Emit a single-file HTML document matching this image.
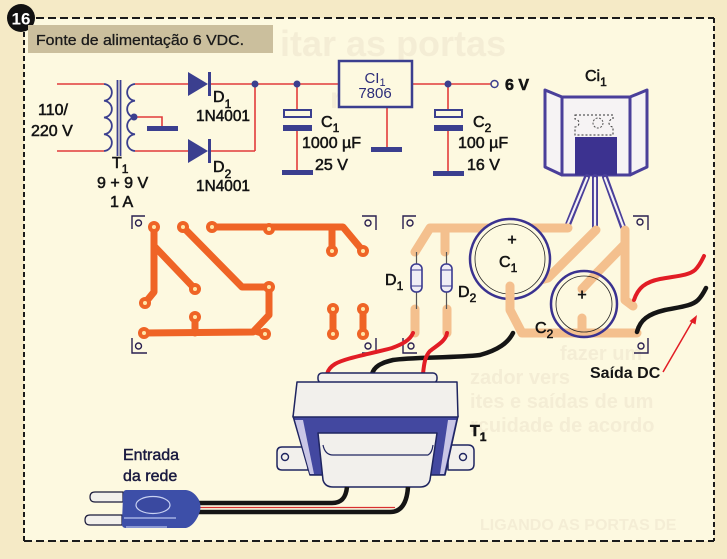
<!DOCTYPE html>
<html><head><meta charset="utf-8">
<style>
html,body{margin:0;padding:0;background:#f5eac6;}
svg{display:block}
text{font-family:"Liberation Sans",Arial,sans-serif;}
.m{fill:#141414;stroke:#141414;stroke-width:0.55;}
.bg{fill:#f4edd5;font-weight:bold;}
</style></head><body>
<svg width="727" height="559" viewBox="0 0 727 559" xmlns="http://www.w3.org/2000/svg">
<rect width="727" height="559" fill="#f5eac6"/>
<rect x="24" y="18" width="690" height="523" fill="#fdf9e0"/>

<!-- faint bleed-through -->
<text class="bg" x="280" y="56" font-size="36">itar as portas</text>
<text class="bg" x="330" y="108" font-size="30">rcuito</text>
<text class="bg" x="560" y="360" font-size="20">fazer um</text>
<text class="bg" x="470" y="384" font-size="20">zador vers</text>
<text class="bg" x="470" y="408" font-size="20">ites e saídas de um</text>
<text class="bg" x="470" y="432" font-size="20">rcuidade de acordo</text>
<text class="bg" x="480" y="530" font-size="16">LIGANDO AS PORTAS DE</text>

<!-- dashed border -->
<g stroke="#1a1a1a" stroke-width="2" fill="none">
<line x1="36" y1="18" x2="714" y2="18" stroke-dasharray="8 4"/>
<line x1="24" y1="32" x2="24" y2="541" stroke-dasharray="5 3"/>
<line x1="24" y1="541" x2="714" y2="541" stroke-dasharray="8 4"/>
<line x1="714" y1="18" x2="714" y2="541" stroke-dasharray="5 3"/>
</g>
<circle cx="21" cy="18" r="14" fill="#111"/>
<text x="21" y="24.5" font-size="17" font-weight="bold" fill="#fff" text-anchor="middle">16</text>
<rect x="28" y="25" width="245" height="28" fill="#cbbf9d"/>
<text x="36" y="45" font-size="15" fill="#1a1a1a" stroke="#1a1a1a" stroke-width="0.3" textLength="208" lengthAdjust="spacingAndGlyphs">Fonte de alimentação 6 VDC.</text>

<!-- ============ SCHEMATIC ============ -->
<g stroke="#e23b3b" stroke-width="1.6" fill="none">
<line x1="57" y1="84" x2="104" y2="84"/>
<line x1="57" y1="151" x2="104" y2="151"/>
<line x1="135" y1="84" x2="190" y2="84"/>
<line x1="135" y1="151" x2="190" y2="151"/>
<line x1="208" y1="84" x2="339" y2="84"/>
<line x1="208" y1="151" x2="255" y2="151"/>
<line x1="255" y1="84" x2="255" y2="151"/>
<polyline points="135,117 162,117 162,126"/>
<line x1="297" y1="84" x2="297" y2="110"/>
<line x1="297" y1="131" x2="297" y2="171"/>
<line x1="412" y1="84" x2="491" y2="84"/>
<line x1="387" y1="107" x2="387" y2="147"/>
<line x1="448" y1="84" x2="448" y2="110"/>
<line x1="448" y1="131" x2="448" y2="171"/>
</g>
<!-- transformer coils -->
<g stroke="#3b3f8f" stroke-width="1.8" fill="none">
<path d="M104,84 a8.5,8.4 0 0 1 0,16.75 a8.5,8.4 0 0 1 0,16.75 a8.5,8.4 0 0 1 0,16.75 a8.5,8.4 0 0 1 0,16.75"/>
<path d="M135,84 a8.5,8.4 0 0 0 0,16.75 a8.5,8.4 0 0 0 0,16.75 a8.5,8.4 0 0 0 0,16.75 a8.5,8.4 0 0 0 0,16.75"/>
<line x1="117.5" y1="80" x2="117.5" y2="156"/>
<line x1="120.5" y1="80" x2="120.5" y2="156"/>
</g>
<g fill="#3b3f8f">
<circle cx="134" cy="117" r="3.5"/>
<circle cx="255" cy="84" r="3.5"/>
<circle cx="297" cy="84" r="3.5"/>
<circle cx="448" cy="84" r="3.5"/>
<rect x="147" y="126" width="31" height="5"/>
<rect x="282" y="170" width="31" height="5"/>
<rect x="371" y="147" width="31" height="5"/>
<rect x="433" y="171" width="31" height="5"/>
<rect x="283" y="125" width="29" height="6"/>
<rect x="434" y="125" width="29" height="6"/>
<polygon points="188,72 188,96 208,84"/>
<polygon points="188,139 188,163 208,151"/>
</g>
<g stroke="#3b3f8f" fill="none">
<line x1="209.5" y1="72" x2="209.5" y2="96" stroke-width="3"/>
<line x1="209.5" y1="139" x2="209.5" y2="163" stroke-width="3"/>
<rect x="284" y="110" width="27" height="7" stroke-width="2" fill="#fdf9e0"/>
<rect x="435" y="110" width="27" height="7" stroke-width="2" fill="#fdf9e0"/>
<rect x="339" y="61" width="73" height="46" stroke-width="2.5" fill="#fdf9e0"/>
<circle cx="494.5" cy="84" r="3.5" stroke-width="1.5" fill="#fdf9e0"/>
</g>
<text x="375" y="83" font-size="15" fill="#2d2d7a" text-anchor="middle">CI<tspan font-size="11" dy="3">1</tspan></text>
<text x="375" y="98" font-size="15" fill="#2d2d7a" text-anchor="middle">7806</text>

<!-- schematic labels -->
<g font-size="16">
<text class="m" x="38" y="115">110/</text>
<text class="m" x="31" y="136">220 V</text>
<text class="m" x="112" y="168">T<tspan font-size="12" dy="5">1</tspan></text>
<text class="m" x="97" y="188">9 + 9 V</text>
<text class="m" x="110" y="207">1 A</text>
<text class="m" x="213" y="102">D<tspan font-size="12" dy="6">1</tspan></text>
<text class="m" x="196" y="121" textLength="54" lengthAdjust="spacingAndGlyphs">1N4001</text>
<text class="m" x="213" y="172">D<tspan font-size="12" dy="6">2</tspan></text>
<text class="m" x="196" y="191" textLength="54" lengthAdjust="spacingAndGlyphs">1N4001</text>
<text class="m" x="321" y="127">C<tspan font-size="12" dy="5">1</tspan></text>
<text class="m" x="302" y="148">1000 µF</text>
<text class="m" x="315" y="170">25 V</text>
<text class="m" x="473" y="127">C<tspan font-size="12" dy="5">2</tspan></text>
<text class="m" x="458" y="148">100 µF</text>
<text class="m" x="467" y="170">16 V</text>
<text class="m" x="505" y="90" font-weight="bold">6 V</text>
<text class="m" x="585" y="81">Ci<tspan font-size="12" dy="5">1</tspan></text>
</g>

<!-- ============ CI1 package ============ -->
<g stroke="#4a3f9a" stroke-width="3" stroke-linejoin="round" fill="#f6f3f4">
<polygon points="545,90 562,97 562,175 545,167"/>
<polygon points="647,90 630,97 630,175 647,167"/>
<rect x="562" y="97" width="68" height="78"/>
</g>
<path d="M575,115 H613 V119 a4,4 0 0 0 0,8 V135 H575 V127 a4,4 0 0 0 0,-8 Z" fill="none" stroke="#333" stroke-width="1" stroke-dasharray="2 2"/>
<circle cx="598" cy="123" r="5" fill="none" stroke="#555" stroke-width="1" stroke-dasharray="2 1.5"/>
<rect x="575" y="137" width="42" height="38" fill="#3c3290"/>
<g stroke="#4a3f9a" stroke-width="6" stroke-linecap="round">
<line x1="587" y1="177" x2="567" y2="227"/>
<line x1="595" y1="177" x2="595" y2="227"/>
<line x1="605" y1="177" x2="623" y2="227"/>
</g>
<g stroke="#f6f3f4" stroke-width="2.2" stroke-linecap="round">
<line x1="587" y1="178" x2="567" y2="226"/>
<line x1="595" y1="178" x2="595" y2="226"/>
<line x1="605" y1="178" x2="623" y2="226"/>
</g>

<!-- ============ LEFT PCB ============ -->
<g stroke="#ef6426" stroke-width="7" stroke-linecap="round" stroke-linejoin="round" fill="none">
<polyline points="154,227 154,292 145,303"/>
<line x1="155" y1="247" x2="195" y2="289"/>
<polyline points="183,227 242,287 269,287 269,315 253,332 144,333"/>
<line x1="255" y1="331" x2="265" y2="334"/>
<line x1="195" y1="317" x2="195" y2="333"/>
<polyline points="212,227 343,227 363,251"/>
<line x1="332" y1="229" x2="332" y2="251"/>
<line x1="333" y1="309" x2="333" y2="334"/>
<line x1="363" y1="309" x2="363" y2="334"/>
</g>
<g fill="#ef6426">
<circle cx="154" cy="227" r="6"/><circle cx="183" cy="227" r="6"/><circle cx="212" cy="227" r="6"/>
<circle cx="269" cy="229" r="6"/><circle cx="332" cy="251" r="6"/><circle cx="363" cy="251" r="6"/>
<circle cx="195" cy="289" r="6"/><circle cx="145" cy="303" r="6"/><circle cx="269" cy="287" r="6"/>
<circle cx="195" cy="317" r="6"/><circle cx="144" cy="333" r="6"/><circle cx="265" cy="334" r="6"/>
<circle cx="333" cy="309" r="6"/><circle cx="333" cy="334" r="6"/><circle cx="363" cy="309" r="6"/><circle cx="363" cy="334" r="6"/>
</g>
<g fill="#ffe6a8">
<circle cx="154" cy="227" r="2"/><circle cx="183" cy="227" r="2"/><circle cx="212" cy="227" r="2"/>
<circle cx="269" cy="229" r="2"/><circle cx="332" cy="251" r="2"/><circle cx="363" cy="251" r="2"/>
<circle cx="195" cy="289" r="2"/><circle cx="145" cy="303" r="2"/><circle cx="269" cy="287" r="2"/>
<circle cx="195" cy="317" r="2"/><circle cx="144" cy="333" r="2"/><circle cx="265" cy="334" r="2"/>
<circle cx="333" cy="309" r="2"/><circle cx="333" cy="334" r="2"/><circle cx="363" cy="309" r="2"/><circle cx="363" cy="334" r="2"/>
</g>

<!-- corner marks -->
<g stroke="#2a2050" stroke-width="1.4" fill="none">
<polyline points="132,229 132,216 145,216"/><circle cx="138.5" cy="223" r="3"/>
<polyline points="362,216 376,216 376,230"/><circle cx="368" cy="223" r="3"/>
<polyline points="132,338 132,353 147,353"/><circle cx="138.5" cy="346" r="3"/>
<polyline points="376,338 376,353 362,353"/><circle cx="368" cy="346" r="3"/>
<polyline points="403,229 403,216 416,216"/><circle cx="410" cy="223" r="3"/>
<polyline points="633,216 648,216 648,230"/><circle cx="640" cy="222" r="3"/>
<polyline points="403,338 403,353 417,353"/><circle cx="411" cy="346" r="3"/>
<polyline points="648,338 648,353 634,353"/><circle cx="641" cy="346" r="3"/>
</g>

<!-- ============ RIGHT PCB ============ -->
<g stroke="#f4c08e" stroke-width="9" stroke-linecap="round" stroke-linejoin="round" fill="none">
<polyline points="415,252 430,228 568,228"/>
<line x1="445" y1="252" x2="445" y2="229"/>
<line x1="415" y1="309" x2="415" y2="333"/>
<line x1="447" y1="309" x2="447" y2="333"/>
<polyline points="596,230 548,278 510,288"/>
<polyline points="625,230 625,300 633,306"/>
<line x1="624" y1="245" x2="590" y2="280"/>
<polyline points="510,288 510,310 522,333 637,333"/>
</g>
<!-- C1 -->
<circle cx="510" cy="259" r="40" fill="#fdf9e0" stroke="#3a3290" stroke-width="2.5"/>
<circle cx="510" cy="259" r="35" fill="none" stroke="#222" stroke-width="0.8"/>
<line x1="510" y1="286" x2="510" y2="300" stroke="#f4c08e" stroke-width="9" stroke-linecap="round"/>
<!-- C2 -->
<circle cx="584" cy="304" r="33" fill="#fdf9e0"/>
<g stroke="#f4c08e" stroke-width="9" stroke-linecap="round" fill="none">
<line x1="598" y1="272" x2="582" y2="289"/>
<line x1="582" y1="318" x2="582" y2="333"/>
<line x1="560" y1="333" x2="610" y2="333"/>
</g>
<circle cx="584" cy="304" r="33" fill="none" stroke="#3a3290" stroke-width="2.5"/>
<circle cx="584" cy="304" r="28" fill="none" stroke="#222" stroke-width="0.8"/>
<g font-size="16">
<text x="512" y="245" text-anchor="middle" class="m">+</text>
<text x="582" y="300" text-anchor="middle" class="m">+</text>
<text class="m" x="499" y="267">C<tspan font-size="12" dy="5">1</tspan></text>
<text class="m" x="535" y="333">C<tspan font-size="12" dy="5">2</tspan></text>
<text class="m" x="385" y="285">D<tspan font-size="12" dy="5">1</tspan></text>
<text class="m" x="458" y="297">D<tspan font-size="12" dy="5">2</tspan></text>
</g>
<!-- diodes on PCB -->
<g stroke="#555" stroke-width="1.2">
<line x1="416.5" y1="252" x2="416.5" y2="309"/>
<line x1="446.5" y1="252" x2="446.5" y2="309"/>
</g>
<g stroke="#3a3a90" stroke-width="1.6" fill="#f0eef5">
<rect x="411" y="264" width="11" height="28" rx="5"/>
<rect x="441" y="264" width="11" height="28" rx="5"/>
</g>
<g stroke="#3a3a90" stroke-width="1">
<line x1="411" y1="270" x2="422" y2="270"/><line x1="411" y1="286" x2="422" y2="286"/>
<line x1="441" y1="270" x2="452" y2="270"/><line x1="441" y1="286" x2="452" y2="286"/>
</g>

<!-- output wires -->
<path d="M634,300 C638,288 645,282 660,279 C675,276 688,276 695,270 C700,265 702,260 704,256" stroke="#e21d25" stroke-width="4" fill="none" stroke-linecap="round"/>
<path d="M637,332 C640,320 648,314 665,310 C680,307 692,306 698,300 C702,296 704,292 706,288" stroke="#151515" stroke-width="4.5" fill="none" stroke-linecap="round"/>
<line x1="663" y1="372" x2="692" y2="322" stroke="#e21d25" stroke-width="1.5"/>
<polygon points="697,315 695.5,324.5 689.5,321.1" fill="#e21d25"/>
<text x="590" y="378" font-size="16" font-weight="bold" fill="#141414">Saída DC</text>

<!-- wires to transformer -->
<path d="M513,333 C508,343 498,350 480,355 C455,358 410,357 393,360 C380,363 374,367 372,374" stroke="#151515" stroke-width="4.5" fill="none" stroke-linecap="round"/>
<path d="M413,333 C410,340 403,344 392,348 C370,354 345,358 335,364 C330,367 328,370 327,374" stroke="#e21d25" stroke-width="4" fill="none" stroke-linecap="round"/>
<path d="M447,333 C446,341 436,346 430,351 C425,356 424,364 423,374" stroke="#e21d25" stroke-width="4" fill="none" stroke-linecap="round"/>

<!-- ============ TRANSFORMER ============ -->
<g stroke="#1f2560" stroke-width="1.5" stroke-linejoin="round">
<path d="M277,452 Q277,447 282,447 H308 V470 H282 Q277,470 277,465 Z" fill="#f2f0ec"/>
<path d="M448,445 H468 Q474,445 474,451 V464 Q474,470 468,470 H448 Z" fill="#f2f0ec"/>
<polygon points="293,416 458,416 445,475 310,475" fill="#4348a0"/>
<polygon points="295,420 303,420 314,474 310,474" fill="#c9c6e6" stroke="none"/>
<polygon points="456,420 448,420 440,474 444,474" fill="#c9c6e6" stroke="none"/>
<path d="M318,433 H437 L430,480 Q428,487 420,487 H333 Q325,487 323,480 Z" fill="#f2f0ec"/>
<path d="M323,445 Q325,455 333,455 H428 Q432,453 433,445" fill="none" stroke-width="1.2"/>
<rect x="318" y="373" width="119" height="10" rx="4" fill="#f2f0ec"/>
<polygon points="297,382 457,382 458,417 293,417" fill="#f2f0ec"/>
</g>
<circle cx="285" cy="457" r="3.5" fill="none" stroke="#1f2560" stroke-width="1.4"/>
<circle cx="463" cy="457" r="3.5" fill="none" stroke="#1f2560" stroke-width="1.4"/>
<text class="m" x="470" y="436" font-size="16" font-weight="bold">T<tspan font-size="12" dy="5">1</tspan></text>

<!-- power cord -->
<path d="M347,487 C346,497 342,503 332,503 H198" stroke="#151515" stroke-width="4.5" fill="none"/>
<path d="M408,487 C407,502 402,512 390,512 H198" stroke="#151515" stroke-width="4.5" fill="none"/>
<line x1="198" y1="507.5" x2="395" y2="507.5" stroke="#d83030" stroke-width="1.2"/>

<!-- plug -->
<g stroke="#1a1a3a" stroke-width="1.2" fill="#f2f0ec">
<path d="M123,492 H95 Q90,492 90,497 Q90,502 95,502 H123 Z"/>
<path d="M122,515 H90 Q85,515 85,520 Q85,525 90,525 H122 Z"/>
</g>
<path d="M126,490 H186 Q194,491 199,500 Q202,507 199,514 Q194,526 186,528 H126 Q121,528 122,522 L123,496 Q123,490 126,490 Z" fill="#3d4fa8"/>
<ellipse cx="153" cy="505" rx="17" ry="8.5" fill="#3a49a0" stroke="#c9d2f2" stroke-width="1.2"/>
<line x1="124" y1="518" x2="176" y2="518" stroke="#d8e2ff" stroke-width="1"/>
<line x1="126" y1="527" x2="167" y2="527" stroke="#d8e2ff" stroke-width="1"/>
<text x="123" y="460" font-size="16" fill="#1a1a40" stroke="#1a1a40" stroke-width="0.45">Entrada</text>
<text x="123" y="481" font-size="16" fill="#1a1a40" stroke="#1a1a40" stroke-width="0.45">da rede</text>
</svg>
</body></html>
